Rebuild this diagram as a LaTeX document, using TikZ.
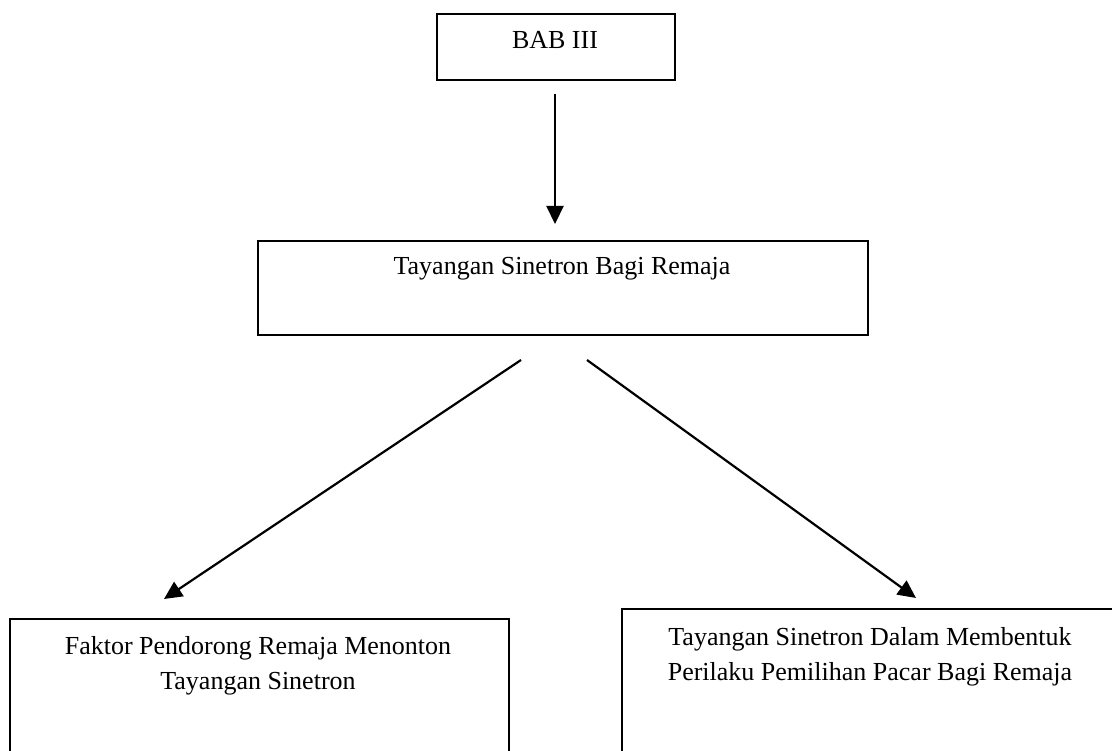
\documentclass[tikz,border=0pt]{standalone}
\usepackage{fontspec}
\setmainfont{Liberation Serif}
\usetikzlibrary{arrows.meta}
\begin{document}
\begin{tikzpicture}[x=1pt,y=-1pt,
  box/.style={draw=black,line width=2.2pt,inner sep=0pt,anchor=north west},
  lbl/.style={inner sep=0pt,anchor=north,align=center,font=\fontsize{26}{35}\selectfont},
  conn/.style={line width=2.2pt,-{Triangle[length=18pt,width=17pt]}}]
\useasboundingbox (0,0) rectangle (1112,751);
\clip (0,0) rectangle (1112,751);
% boxes
\node[box,minimum width=238pt,minimum height=66pt] (bab) at (436,13) {};
\node[box,minimum width=610pt,minimum height=94pt] (tsb) at (257,240) {};
\node[box,minimum width=499pt,minimum height=200pt] (fak) at (9,618) {};
\node[box,minimum width=498pt,minimum height=210pt] (tsd) at (621,608) {};
% labels
\node[lbl] (babt) at (555,31) {BAB III};
\node[lbl] (tsbt) at (562,257) {Tayangan Sinetron Bagi Remaja};
\node[lbl] (fakt) at (258,636) {Faktor Pendorong Remaja Menonton\\Tayangan Sinetron};
\node[lbl] (tsdt) at (870,627) {Tayangan Sinetron Dalam Membentuk\\Perilaku Pemilihan Pacar Bagi Remaja};
% connector ends
\coordinate (a1s) at (555,94);
\coordinate (a1e) at (555,224);
\coordinate (a2s) at (521,360);
\coordinate (a2e) at (164,599);
\coordinate (a3s) at (587,360);
\coordinate (a3e) at (916,598);
\draw[conn] (a1s) -- (a1e);
\draw[conn] (a2s) -- (a2e);
\draw[conn] (a3s) -- (a3e);
\end{tikzpicture}
\end{document}
